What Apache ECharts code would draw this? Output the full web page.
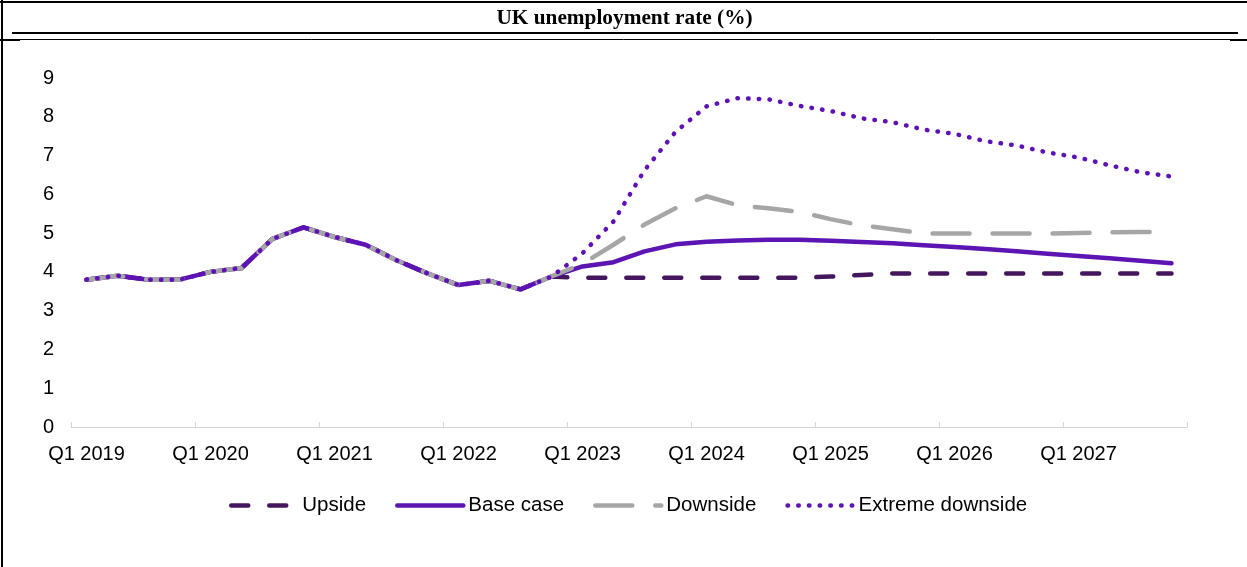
<!DOCTYPE html>
<html>
<head>
<meta charset="utf-8">
<title>UK unemployment rate (%)</title>
<script src="https://cdn.jsdelivr.net/npm/echarts@6/dist/echarts.min.js"></script>
<style>
  html, body { margin: 0; padding: 0; background: #ffffff; }
  #chart { width: 1247px; height: 567px; }
</style>
</head>
<body>
<div id="chart"></div>
<script>
// Quarterly categories, Q1 2019 .. Q4 2027
const quarters = [
  'Q1 2019', 'Q2 2019', 'Q3 2019', 'Q4 2019',
  'Q1 2020', 'Q2 2020', 'Q3 2020', 'Q4 2020',
  'Q1 2021', 'Q2 2021', 'Q3 2021', 'Q4 2021',
  'Q1 2022', 'Q2 2022', 'Q3 2022', 'Q4 2022',
  'Q1 2023', 'Q2 2023', 'Q3 2023', 'Q4 2023',
  'Q1 2024', 'Q2 2024', 'Q3 2024', 'Q4 2024',
  'Q1 2025', 'Q2 2025', 'Q3 2025', 'Q4 2025',
  'Q1 2026', 'Q2 2026', 'Q3 2026', 'Q4 2026',
  'Q1 2027', 'Q2 2027', 'Q3 2027', 'Q4 2027'
];

// Outturn shared by every scenario (Q1 2019 .. Q4 2022)
const history = [3.8, 3.9, 3.8, 3.8, 4.0, 4.1, 4.85, 5.15, 4.9, 4.7, 4.3, 3.96, 3.66, 3.77, 3.55, 3.88];

// Scenario paths (Q1 2023 .. Q4 2027)
const upside = [3.85, 3.85, 3.85, 3.85, 3.85, 3.85, 3.85, 3.85, 3.88, 3.92, 3.96, 3.96, 3.96, 3.96, 3.96, 3.96, 3.96, 3.96, 3.96, 3.96];
const baseCase = [4.14, 4.25, 4.53, 4.71, 4.78, 4.81, 4.83, 4.83, 4.80, 4.77, 4.74, 4.69, 4.64, 4.59, 4.53, 4.47, 4.41, 4.35, 4.29, 4.22];
const downside = [4.21, 4.70, 5.22, 5.64, 5.95, 5.72, 5.64, 5.55, 5.36, 5.20, 5.10, 4.99, 4.99, 4.99, 4.99, 4.99, 5.00, 5.02, 5.03, 5.03];
const extremeDownside = [4.48, 5.30, 6.62, 7.61, 8.27, 8.48, 8.45, 8.28, 8.15, 7.96, 7.86, 7.67, 7.56, 7.37, 7.26, 7.08, 6.95, 6.75, 6.57, 6.46];

// Value axis ticks
const yTicks = [0, 1, 2, 3, 4, 5, 6, 7, 8, 9];

const seriesNames = ['Upside', 'Base case', 'Downside', 'Extreme downside'];

const sansFont = '"Liberation Sans", Arial, sans-serif';
const serifFont = '"Liberation Serif", "Times New Roman", serif';

function lineSeries(name, values, color, width, dash) {
  return {
    name: name,
    type: 'line',
    data: history.concat(values),
    symbol: 'none',
    showSymbol: false,
    smooth: false,
    lineStyle: { color: color, width: width, type: dash, cap: 'round', join: 'round' },
    itemStyle: { color: color },
    emphasis: { disabled: true },
    animation: false
  };
}

const chart = echarts.init(document.getElementById('chart'), null, { renderer: 'canvas' });

chart.setOption({
  backgroundColor: '#ffffff',
  animation: false,
  grid: {
    left: 71,
    right: 60,
    top: 78,
    bottom: 140,
    containLabel: false,
    outerBoundsMode: 'none'
  },
  xAxis: {
    type: 'category',
    data: quarters,
    boundaryGap: true,
    axisLine: { show: true, lineStyle: { color: '#d4d4d4', width: 1 } },
    axisTick: {
      show: true,
      inside: true,
      length: 5,
      interval: 3,
      alignWithLabel: false,
      lineStyle: { color: '#d4d4d4', width: 1 }
    },
    axisLabel: {
      interval: 3,
      margin: 17,
      color: '#000000',
      fontFamily: sansFont,
      fontSize: 20
    },
    splitLine: { show: false }
  },
  yAxis: {
    type: 'value',
    min: yTicks[0],
    max: yTicks[yTicks.length - 1],
    interval: 1,
    axisLine: { show: false },
    axisTick: { show: false },
    splitLine: { show: false },
    axisLabel: {
      margin: 17,
      color: '#000000',
      fontFamily: sansFont,
      fontSize: 20
    }
  },
  legend: {
    data: seriesNames,
    left: 224,
    top: 490,
    itemWidth: 66,
    itemHeight: 20,
    itemGap: 29,
    // legend keys show only the line sample, no marker
    itemStyle: { opacity: 0 },
    lineStyle: { width: 4.5 },
    textStyle: {
      color: '#000000',
      fontFamily: sansFont,
      fontSize: 20.5
    },
    selectedMode: false
  },
  series: [
    lineSeries('Upside', upside, '#44165e', 4.5, [17, 21]),
    lineSeries('Base case', baseCase, '#5c14b2', 4.5, 'solid'),
    lineSeries('Downside', downside, '#a6a6a6', 4.5, [37, 23]),
    lineSeries('Extreme downside', extremeDownside, '#5e12b5', 4.5, [0.5, 10.2])
  ],
  graphic: [
    // outer frame: top and left edges
    { type: 'line', silent: true, shape: { x1: 0, y1: 2, x2: 1247, y2: 2 }, style: { stroke: '#000', lineWidth: 2 } },
    { type: 'line', silent: true, shape: { x1: 2, y1: 0, x2: 2, y2: 567 }, style: { stroke: '#000', lineWidth: 2 } },
    // heading rules
    { type: 'line', silent: true, shape: { x1: 12, y1: 33, x2: 1238, y2: 33 }, style: { stroke: '#000', lineWidth: 2 } },
    { type: 'line', silent: true, shape: { x1: 0, y1: 39.5, x2: 1247, y2: 39.5 }, style: { stroke: '#000', lineWidth: 1 } },
    { type: 'line', silent: true, shape: { x1: 0, y1: 40, x2: 20, y2: 40 }, style: { stroke: '#000', lineWidth: 2 } },
    { type: 'line', silent: true, shape: { x1: 1230, y1: 40, x2: 1247, y2: 40 }, style: { stroke: '#000', lineWidth: 2 } },
    // heading
    {
      type: 'text',
      silent: true,
      x: 624.5,
      y: 18,
      style: {
        text: 'UK unemployment rate (%)',
        fill: '#000000',
        font: 'bold 21.3px ' + serifFont,
        textAlign: 'center',
        textVerticalAlign: 'middle'
      }
    }
  ]
});
</script>
</body>
</html>
